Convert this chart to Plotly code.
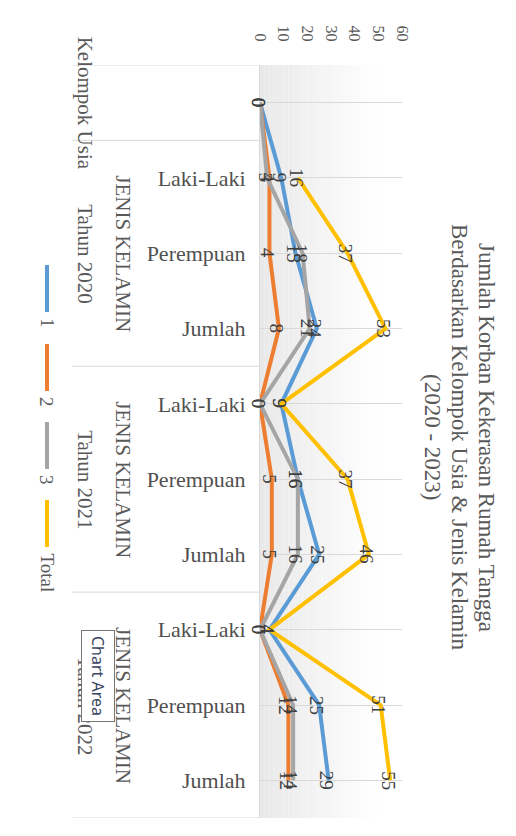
import plotly.graph_objects as go

# ---------------- data ----------------
categories = ["", "Laki-Laki", "Perempuan", "Jumlah",
              "Laki-Laki", "Perempuan", "Jumlah",
              "Laki-Laki", "Perempuan", "Jumlah"]
series_names = ["1", "2", "3", "Total"]
s1 = [0, 9, 15, 24, 9, 16, 25, 4, 25, 29]
s2 = [0, 4, 4, 8, 0, 5, 5, 0, 12, 12]
s3 = [0, 3, 18, 21, 0, 16, 16, 0, 14, 14]
total = [None, 16, 37, 53, 9, 37, 46, 4, 51, 55]
outer_groups = [("Kelompok Usia", 0, 0), ("Tahun 2020", 1, 3),
                ("Tahun 2021", 4, 6), ("Tahun 2022", 7, 9)]
mid_groups = [("JENIS KELAMIN", 1, 3), ("JENIS KELAMIN", 4, 6),
              ("JENIS KELAMIN", 7, 9)]
value_ticks = [0, 10, 20, 30, 40, 50, 60]
title_lines = ["Jumlah Korban Kekerasan Rumah Tangga",
               "Berdasarkan Kelompok Usia & Jenis Kelamin",
               "(2020 - 2023)"]

# ---------------- style ----------------
colors = ["#5B9BD5", "#ED7D31", "#A5A5A5", "#FFC000"]
SERIF = "Liberation Serif, Times New Roman, serif"
TXT = "#595959"
OFF = 8  # page body margin of the browser
W_FIG, H_FIG = 516 - OFF, 836 - OFF
L, R, T, B = 252, 114, 57, 18
PW = W_FIG - L - R
PH = H_FIG - T - B


def px(xp):
    return (xp - OFF - L) / PW


def py(yp):
    return 1 - (yp - OFF - T) / PH


ycat = list(range(len(categories)))
all_series = [s1, s2, s3, total]

fig = go.Figure()
for name, vals, col in zip(series_names, all_series, colors):
    fig.add_trace(go.Scatter(x=vals, y=ycat, mode="lines", name=name,
                             line=dict(color=col, width=4),
                             connectgaps=False, showlegend=False))

annotations = []
shapes = []

# gradient plot background
n_strips = 30
for i in range(n_strips):
    f = i / (n_strips - 1)
    g = int(round(233 + (255 - 233) * min(1.0, f / 0.85)))
    shapes.append(dict(type="rect", xref="x domain", yref="y domain",
                       x0=i / n_strips, x1=(i + 1) / n_strips, y0=0, y1=1,
                       fillcolor=f"rgb({g},{g},{g})", line=dict(width=0),
                       layer="below"))

# data labels
for vals in all_series:
    for yi, v in zip(ycat, vals):
        if v is None:
            continue
        annotations.append(dict(x=v, y=yi, xref="x", yref="y", text=str(v),
                                showarrow=False, textangle=90, xshift=-2,
                                xanchor="center", yanchor="middle",
                                font=dict(family=SERIF, size=19, color="#404040")))

# group separators
bounds = sorted(set([g[1] - 0.5 for g in outer_groups] + [outer_groups[-1][2] + 0.5]))
for b in bounds:
    shapes.append(dict(type="line", xref="paper", yref="y", x0=px(72), x1=px(260),
                       y0=b, y1=b, line=dict(color="#d9d9d9", width=1)))

# outer group labels
for label, a, b in outer_groups:
    annotations.append(dict(x=px(85), y=(a + b) / 2, xref="paper", yref="y",
                            text=label, showarrow=False, textangle=90,
                            xanchor="center", yanchor="middle",
                            font=dict(family=SERIF, size=21, color=TXT)))
for label, a, b in mid_groups:
    annotations.append(dict(x=px(123), y=(a + b) / 2, xref="paper", yref="y",
                            text=label, showarrow=False, textangle=90,
                            xanchor="center", yanchor="middle",
                            font=dict(family=SERIF, size=21, color=TXT)))

# title
for i, line in enumerate(title_lines):
    annotations.append(dict(x=px(487 - 27 * i), y=py(437), xref="paper", yref="paper",
                            text=line, showarrow=False, textangle=90,
                            xanchor="center", yanchor="middle",
                            font=dict(family=SERIF, size=23, color=TXT)))

# manual legend
leg_starts = [265, 344, 422, 500]
for name, col, y0 in zip(series_names, colors, leg_starts):
    shapes.append(dict(type="line", xref="paper", yref="paper",
                       x0=px(47), x1=px(47), y0=py(y0), y1=py(y0 + 47),
                       line=dict(color=col, width=4)))
    annotations.append(dict(x=px(47), y=py(y0 + 51), xref="paper", yref="paper",
                            text=name, showarrow=False, textangle=90,
                            yanchor="top", xanchor="center",
                            font=dict(family=SERIF, size=19, color=TXT)))

# "Chart Area" tooltip
annotations.append(dict(x=px(98), y=py(676), xref="paper", yref="paper",
                        text="Chart Area", showarrow=False, textangle=90,
                        xanchor="center", yanchor="middle",
                        bgcolor="white", bordercolor="#767676", borderwidth=1,
                        borderpad=5,
                        font=dict(family="Noto Sans, sans-serif", size=16, color="#3b4663")))

# chart border at right
shapes.append(dict(type="line", xref="paper", yref="paper",
                   x0=px(514.5), x1=px(514.5), y0=py(0), y1=py(836),
                   line=dict(color="#d9d9d9", width=1)))

fig.update_layout(
    width=W_FIG, height=H_FIG,
    margin=dict(l=L, r=R, t=T, b=B, pad=0),
    paper_bgcolor="white", plot_bgcolor="white",
    showlegend=False,
    annotations=annotations, shapes=shapes,
    xaxis=dict(side="top", range=[0, 60], tickvals=value_ticks,
               ticktext=[str(v) for v in value_ticks], tickangle=90,
               showgrid=False, zeroline=False, showline=False,
               ticks="", ticklabelstandoff=20,
               tickfont=dict(family=SERIF, size=16, color=TXT)),
    yaxis=dict(range=[len(categories) - 0.5, -0.5], tickvals=ycat,
               ticktext=categories, showgrid=True, gridcolor="#d9d9d9",
               gridwidth=1, zeroline=False, showline=True, linecolor="#d9d9d9",
               ticks="", ticklabelstandoff=9,
               tickfont=dict(family=SERIF, size=22, color="#505050")),
)

fig.write_html("out.html")
